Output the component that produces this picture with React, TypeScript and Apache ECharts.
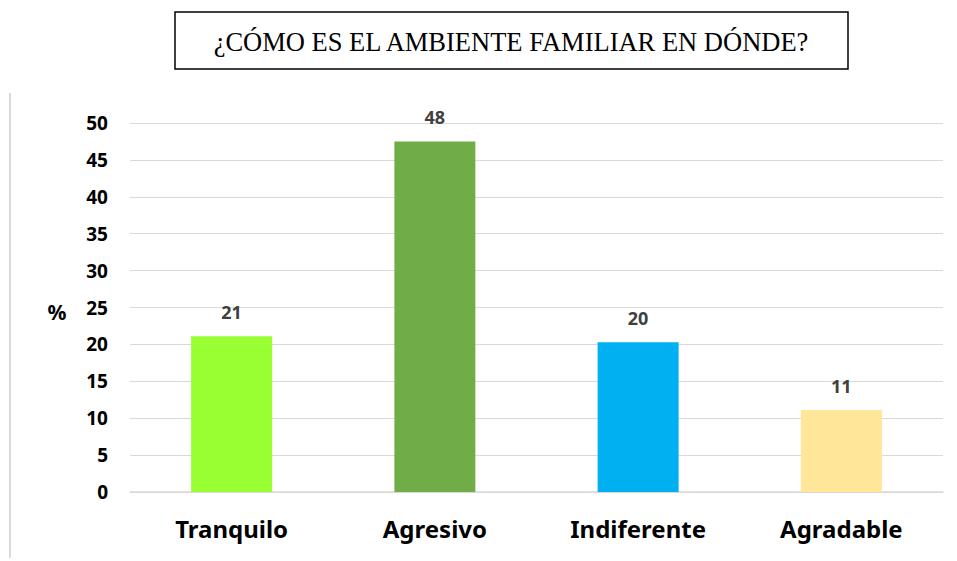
import React, { useEffect, useRef } from "react";
import * as echarts from "echarts";

const categories = ["Tranquilo", "Agresivo", "Indiferente", "Agradable"];
const values = [21.1, 47.5, 20.3, 11.1];
const barColors = ["#99ff33", "#70ad47", "#00b0f0", "#ffe699"];
const titleText = "¿CÓMO ES EL AMBIENTE FAMILIAR EN DÓNDE?";
const yAxisName = "%";

export default function App() {
  const ref = useRef<HTMLDivElement>(null);
  useEffect(() => {
    const chart = echarts.init(ref.current!, null, { renderer: "svg" });
    chart.setOption({
      animation: false,
      backgroundColor: "#ffffff",
      graphic: [
        {
          type: "rect",
          shape: { x: 175, y: 12, width: 673, height: 57 },
          style: { fill: "#ffffff", stroke: "#000000", lineWidth: 1.5 },
        },
        {
          type: "text",
          x: 511,
          y: 42,
          style: {
            text: titleText,
            fill: "#000000",
            font: '26.5px "Liberation Serif", "Times New Roman", serif',
            align: "center",
            verticalAlign: "middle",
          },
        },
        {
          type: "line",
          shape: { x1: 10, y1: 93, x2: 10, y2: 558 },
          style: { stroke: "#d9d9d9", lineWidth: 2 },
        },
        {
          type: "text",
          x: 57,
          y: 312,
          style: {
            text: yAxisName,
            fill: "#000000",
            font: 'bold 21px "Noto Sans", sans-serif',
            align: "center",
            verticalAlign: "middle",
          },
        },
      ],
      grid: { left: 130, right: 14, top: 123, bottom: 69, containLabel: false },
      xAxis: {
        type: "category",
        data: categories,
        axisLine: { lineStyle: { color: "#d9d9d9", width: 1.5 } },
        axisTick: { show: false },
        axisLabel: {
          color: "#000000",
          fontFamily: '"Noto Sans", sans-serif',
          fontWeight: "bold",
          fontSize: 24,
          margin: 24,
        },
      },
      yAxis: {
        type: "value",
        min: 0,
        max: 50,
        interval: 5,
        axisLine: { show: false },
        axisTick: { show: false },
        splitLine: { lineStyle: { color: "#d9d9d9", width: 1.2 } },
        axisLabel: {
          color: "#000000",
          fontFamily: '"Noto Sans", sans-serif',
          fontWeight: "bold",
          fontSize: 19,
          margin: 22,
        },
      },
      series: [
        {
          type: "bar",
          data: values.map((v, i) => ({ value: v, itemStyle: { color: barColors[i] } })),
          barWidth: 81,
          label: {
            show: true,
            position: "top",
            distance: 15,
            color: "#404040",
            fontFamily: '"Noto Sans", sans-serif',
            fontWeight: "bold",
            fontSize: 18,
            formatter: (p: any) => String(Math.round(p.value)),
          },
        },
      ],
    });
    return () => chart.dispose();
  }, []);
  return <div ref={ref} style={{ width: 957, height: 561, position: "absolute", left: 0, top: 0 }} />;
}
